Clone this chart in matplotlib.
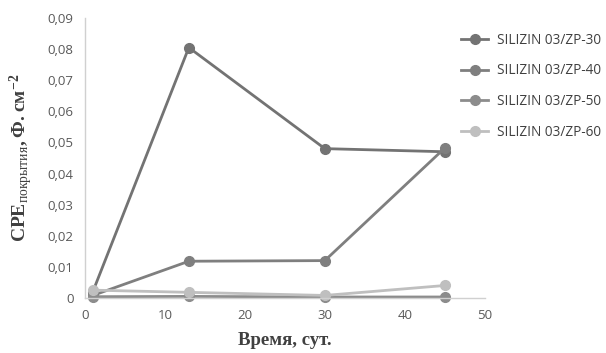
import matplotlib
matplotlib.use('Agg')
from matplotlib import pyplot as plt
from matplotlib.ticker import FuncFormatter

# data
days = [1, 13, 30, 45]
zp30 = [0.002, 0.0805, 0.048, 0.047]
zp40 = [0.0008, 0.0118, 0.012, 0.0482]
zp50 = [0.0004, 0.0005, 0.0003, 0.0003]
zp60 = [0.0025, 0.0018, 0.0008, 0.004]
names = ['SILIZIN 03/ZP-30', 'SILIZIN 03/ZP-40', 'SILIZIN 03/ZP-50', 'SILIZIN 03/ZP-60']
colors = ['#737373', '#7f7f7f', '#8c8c8c', '#bfbfbf']

plt.rcParams['mathtext.fontset'] = 'custom'
plt.rcParams['mathtext.rm'] = 'Liberation Serif'
plt.rcParams['mathtext.bf'] = 'Liberation Serif:bold'

fig = plt.figure(figsize=(6.06, 3.53), dpi=100)
ax = fig.add_axes([0.140, 0.156, 0.660, 0.793])

for y, name, c in zip([zp30, zp40, zp50, zp60], names, colors):
    ax.plot(days, y, color=c, lw=2.0, marker='o', ms=7, label=name, clip_on=False)

ax.set_xlim(0, 50)
ax.set_ylim(0, 0.09)
ax.set_xticks(range(0, 51, 10))
ax.set_yticks([i * 0.01 for i in range(10)])
ax.yaxis.set_major_formatter(FuncFormatter(
    lambda v, p: '0' if abs(v) < 1e-9 else ('%.2f' % v).replace('.', ',')))

for s in ['top', 'right']:
    ax.spines[s].set_visible(False)
for s in ['left', 'bottom']:
    ax.spines[s].set_color('#d0d0d0')
    ax.spines[s].set_linewidth(1.0)
ax.tick_params(length=0, labelsize=9.5, labelcolor='#595959', pad=8)
for lab in ax.get_xticklabels() + ax.get_yticklabels():
    lab.set_family('Open Sans')

ax.set_xlabel('Время, сут.', family='Liberation Serif', weight='bold',
              fontsize=13.5, color='#404040', labelpad=7)
ax.set_ylabel(r'$\mathbf{CPE}_{\mathrm{покрытия}}\mathbf{, Ф.см^{-2}}$',
              fontsize=14, color='#404040', labelpad=9)

leg = fig.legend(loc='upper left', bbox_to_anchor=(0.760, 0.907), frameon=False,
                 prop={'family': 'Open Sans', 'size': 9.8}, labelspacing=1.15,
                 handlelength=2.05, handletextpad=0.6, borderpad=0, borderaxespad=0)
for t in leg.get_texts():
    t.set_color('#404040')

fig.savefig('out.png', dpi=100)
